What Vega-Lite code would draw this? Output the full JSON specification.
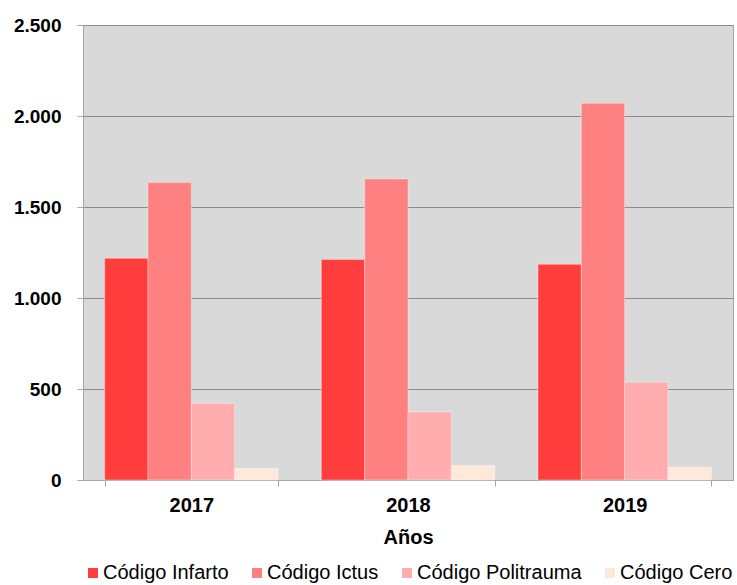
{
  "$schema": "https://vega.github.io/schema/vega-lite/v6.json",
  "width": 650,
  "height": 455,
  "autosize": {"type": "none"},
  "padding": {"left": 83, "top": 25, "right": 4, "bottom": 105},
  "background": "white",
  "config": {
    "font": "Liberation Sans",
    "view": {"fill": "#d9d9d9", "stroke": "#a6a6a6", "strokeWidth": 1}
  },
  "data": {
    "values": [
      {"anio": "2017", "codigo": "Código Infarto", "valor": 1218},
      {"anio": "2017", "codigo": "Código Ictus", "valor": 1634},
      {"anio": "2017", "codigo": "Código Politrauma", "valor": 421},
      {"anio": "2017", "codigo": "Código Cero", "valor": 64},
      {"anio": "2018", "codigo": "Código Infarto", "valor": 1212},
      {"anio": "2018", "codigo": "Código Ictus", "valor": 1654},
      {"anio": "2018", "codigo": "Código Politrauma", "valor": 374},
      {"anio": "2018", "codigo": "Código Cero", "valor": 79},
      {"anio": "2019", "codigo": "Código Infarto", "valor": 1185},
      {"anio": "2019", "codigo": "Código Ictus", "valor": 2070},
      {"anio": "2019", "codigo": "Código Politrauma", "valor": 537},
      {"anio": "2019", "codigo": "Código Cero", "valor": 70}
    ]
  },
  "mark": {"type": "bar", "strokeWidth": 1, "strokeOpacity": 0.35, "stroke": "white"},
  "encoding": {
    "x": {
      "field": "anio",
      "type": "nominal",
      "title": "Años",
      "scale": {"paddingInner": 0.2, "paddingOuter": 0.1},
      "axis": {
        "labelAngle": 0,
        "labelFont": "Liberation Sans",
        "labelFontSize": 20,
        "labelFontWeight": "bold",
        "labelColor": "black",
        "labelPadding": 9,
        "tickBand": "extent",
        "tickSize": 6,
        "tickColor": "#a6a6a6",
        "domainColor": "#a6a6a6",
        "titleFont": "Liberation Sans",
        "titleFontSize": 20,
        "titleFontWeight": "bold",
        "titleColor": "black",
        "titlePadding": 12
      }
    },
    "xOffset": {
      "field": "codigo",
      "type": "nominal",
      "sort": ["Código Infarto", "Código Ictus", "Código Politrauma", "Código Cero"],
      "scale": {"paddingInner": 0, "paddingOuter": 0}
    },
    "y": {
      "field": "valor",
      "type": "quantitative",
      "title": null,
      "scale": {"domain": [0, 2500]},
      "axis": {
        "values": [0, 500, 1000, 1500, 2000, 2500],
        "labelExpr": "replace(format(datum.value, ','), ',', '.')",
        "labelFont": "Liberation Sans",
        "labelFontSize": 19,
        "labelFontWeight": "bold",
        "labelColor": "black",
        "labelPadding": 16,
        "tickSize": 6,
        "tickColor": "#a6a6a6",
        "domainColor": "#a6a6a6",
        "gridColor": "#8c8c8c",
        "gridWidth": 1
      }
    },
    "color": {
      "field": "codigo",
      "type": "nominal",
      "sort": ["Código Infarto", "Código Ictus", "Código Politrauma", "Código Cero"],
      "scale": {
        "domain": ["Código Infarto", "Código Ictus", "Código Politrauma", "Código Cero"],
        "range": ["#ff3d3d", "#ff8080", "#ffadae", "#fde8d9"]
      },
      "legend": {
        "title": null,
        "orient": "none",
        "direction": "horizontal",
        "legendX": 0,
        "legendY": 538,
        "symbolType": "square",
        "symbolSize": 100,
        "symbolStrokeWidth": 0,
        "labelFont": "Liberation Sans",
        "labelFontSize": 20,
        "labelColor": "black",
        "labelOffset": 0,
        "labelLimit": 400,
        "columnPadding": 18
      }
    }
  }
}
